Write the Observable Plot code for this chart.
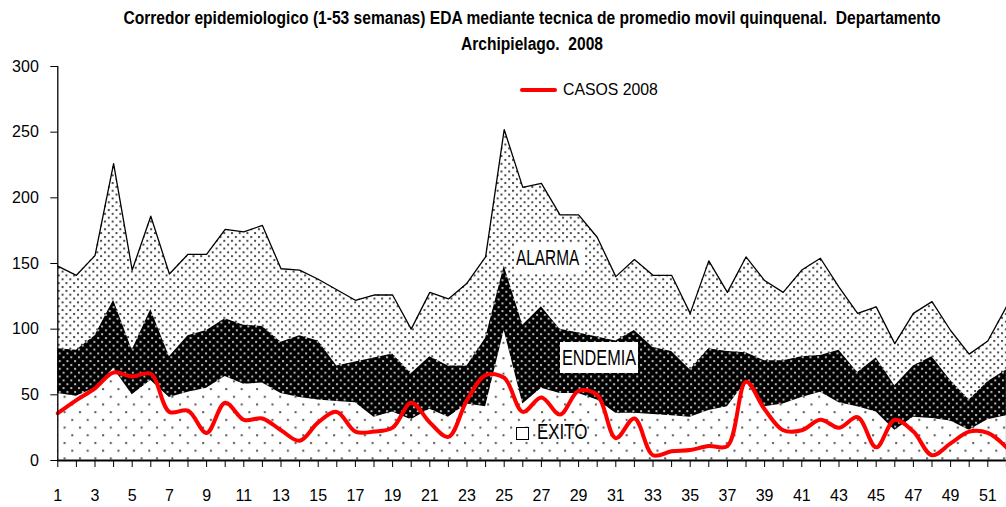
<!DOCTYPE html>
<html>
<head>
<meta charset="utf-8">
<script src="https://cdn.jsdelivr.net/npm/d3@7"></script>
<script src="https://cdn.jsdelivr.net/npm/@observablehq/plot@0.6"></script>
<style>
  body { margin: 0; background: #fff; }
  #wrap { position: relative; width: 1006px; height: 507px; overflow: hidden; background: #fff;
          font-family: "Liberation Sans", Arial, sans-serif; }
  #title { position: absolute; left: 58px; width: 948px; top: 5px; text-align: center;
           font-family: "Liberation Sans", Arial, sans-serif;
           font-weight: bold; font-size: 18px; line-height: 26px; color: #000;
           transform: scaleX(0.865); transform-origin: 474px 0; }
  #chart { position: absolute; left: 0; top: 55px; }
  .lab { position: absolute; font-family: "Liberation Sans", Arial, sans-serif;
         font-size: 22px; white-space: nowrap; color: #000; }
  .lab span { display: inline-block; transform-origin: 0 50%; }
</style>
</head>
<body>
<div id="wrap">
  <div id="title">Corredor epidemiologico (1-53 semanas) EDA mediante tecnica de promedio movil quinquenal.&nbsp; Departamento<br>Archipielago.&nbsp; 2008</div>
  <div id="chart"></div>
  <!-- legend -->
  <div style="position:absolute;left:520px;top:88px;width:37px;height:4px;background:#ff0000;border-radius:2px;"></div>
  <div class="lab" style="left:563px;top:81px;font-size:17px;line-height:18px;"><span style="transform:scaleX(0.93)">CASOS 2008</span></div>
  <!-- zone labels -->
  <div class="lab" style="left:514px;top:243px;width:68px;height:30px;line-height:30px;background:#fff;padding-left:2px;"><span style="transform:scaleX(0.70)">ALARMA</span></div>
  <div class="lab" style="left:560px;top:342px;width:76px;height:31px;line-height:31px;background:#fff;padding-left:2px;"><span style="transform:scaleX(0.74)">ENDEMIA</span></div>
  <div style="position:absolute;left:516px;top:427px;width:11px;height:11px;border:1.5px solid #000;background:#fff;"></div>
  <div class="lab" style="left:537px;top:421px;line-height:22px;"><span style="transform:scaleX(0.77)">ÉXITO</span></div>
</div>
<script>
// ---- data ----
const weeks = [1,2,3,4,5,6,7,8,9,10,11,12,13,14,15,16,17,18,19,20,21,22,23,24,25,26,
               27,28,29,30,31,32,33,34,35,36,37,38,39,40,41,42,43,44,45,46,47,48,49,50,51,52];
const alarma = [148,141,156,226,145,186,142,157,157,176, 174,179,146,145,138,130,122,126,126,100,
                128,123,135,155,252,208,211,187,187,170, 140,153,141,141,112,152,128,155,137,128,
                145,154,132,112,117,89,112,121,99,81, 91,117];
const endemia = [85,84,95,122,84,115,79,95,99,108, 103,102,90,95,91,72,75,78,81,66,
                 79,72,72,93,148,103,117,100,97,94, 91,99,86,83,69,85,83,82,76,76,
                 79,80,84,67,78,57,72,79,61,46, 60,69];
const exito = [51,49,55,70,50,61,48,52,55,64, 58,59,51,48,46,45,44,33,37,31,
               39,33,43,41,99,43,55,51,51,46, 36,36,35,34,33,38,41,60,41,43,
               48,52,44,41,37,23,33,32,30,23, 31,34];
const casos = [36,46,55,67,64,66,37,38,21,44, 31,32,23,15,29,37,22,22,25,44,
               29,18,46,65,63,37,48,35,53,50, 17,32,4,7,8,11,11,60,39,23,
               23,31,25,33,10,31,22,4,13,22, 21,10];
const yTicks = [0,50,100,150,200,250,300];

const rows = weeks.map((w, i) => ({week: w, alarma: alarma[i], endemia: endemia[i], exito: exito[i], casos: casos[i]}));

const plot = Plot.plot({
  width: 1006,
  height: 452,
  marginLeft: 57.3,
  marginRight: 0.1,
  marginTop: 11,
  marginBottom: 47,
  x: {domain: [1, 52], label: null},
  y: {domain: [0, 300], label: null},
  style: {fontFamily: "'Liberation Sans', Arial, sans-serif", fontSize: "16px", color: "#000", background: "white", overflow: "visible"},
  marks: [
    Plot.areaY(rows, {x: "week", y: "alarma", fill: "url(#patAlarma)"}),
    Plot.lineY(rows, {x: "week", y: "alarma", stroke: "#000", strokeWidth: 1.3}),
    Plot.areaY(rows, {x: "week", y: "endemia", fill: "url(#patEndemia)"}),
    Plot.areaY(rows, {x: "week", y: "exito", fill: "url(#patExito)"}),
    Plot.lineY(rows, {x: "week", y: "casos", stroke: "#ff0000", strokeWidth: 4, curve: "catmull-rom"}),
    Plot.ruleY([0], {stroke: "#000", strokeWidth: 2}),
    Plot.ruleX([1], {y1: 0, y2: 300, stroke: "#000", strokeWidth: 1.3}),
    Plot.axisX({ticks: weeks, tickSize: 7, tickPadding: 22, tickFormat: d => d % 2 ? String(d) : "", fontSize: 16}),
    Plot.axisY({ticks: yTicks, tickSize: 7, tickPadding: 12, fontSize: 16})
  ]
});

const ns = "http://www.w3.org/2000/svg";
const defs = document.createElementNS(ns, "defs");
defs.innerHTML = `
  <pattern id="patAlarma" patternUnits="userSpaceOnUse" width="7.7" height="7.7">
    <rect width="7.7" height="7.7" fill="#fff"/>
    <rect x="0" y="0" width="2" height="2" fill="#4a4a4a"/>
    <rect x="3.85" y="3.85" width="2" height="2" fill="#4a4a4a"/>
  </pattern>
  <pattern id="patEndemia" patternUnits="userSpaceOnUse" width="7.7" height="7.7">
    <rect width="7.7" height="7.7" fill="#000"/>
    <rect x="1" y="1" width="2" height="2" fill="#bbb"/>
    <rect x="4.85" y="4.85" width="2" height="2" fill="#bbb"/>
  </pattern>
  <pattern id="patExito" patternUnits="userSpaceOnUse" width="15.4" height="15.4">
    <rect width="15.4" height="15.4" fill="#fff"/>
    <rect x="2" y="2" width="2" height="2" fill="#555"/>
    <rect x="9.7" y="9.7" width="2" height="2" fill="#555"/>
  </pattern>`;
plot.insertBefore(defs, plot.firstChild);
document.getElementById("chart").appendChild(plot);
</script>
</body>
</html>
